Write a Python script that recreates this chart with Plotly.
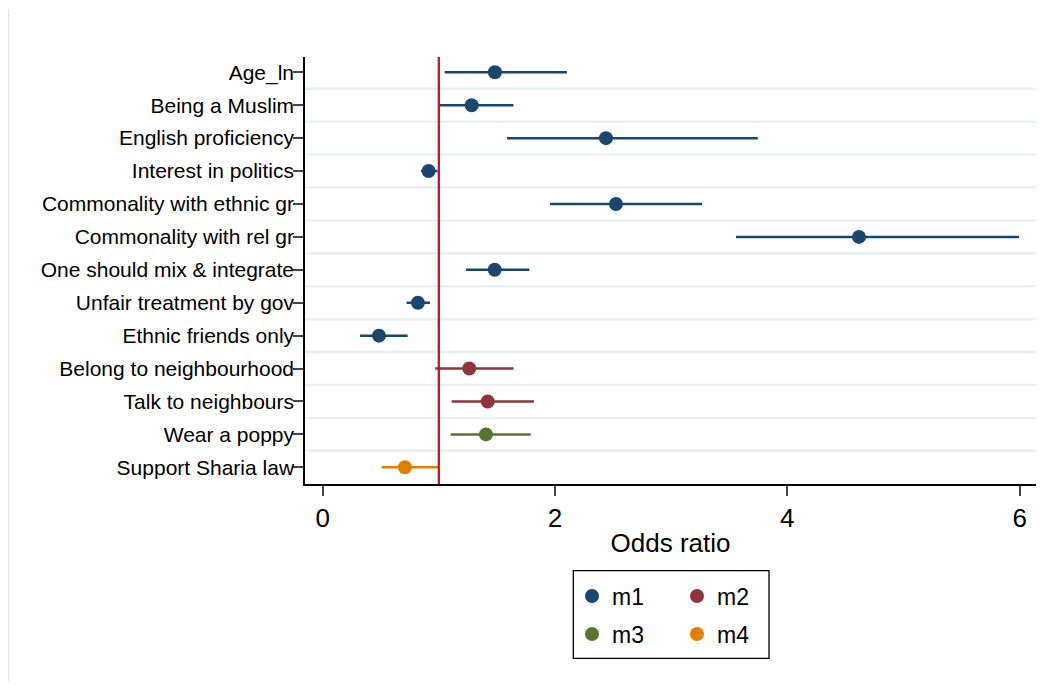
import plotly.graph_objects as go

# ---- data ----
labels = ["Age_ln", "Being a Muslim", "English proficiency", "Interest in politics",
          "Commonality with ethnic gr", "Commonality with rel gr", "One should mix & integrate",
          "Unfair treatment by gov", "Ethnic friends only", "Belong to neighbourhood",
          "Talk to neighbours", "Wear a poppy", "Support Sharia law"]
models = ["m1", "m1", "m1", "m1", "m1", "m1", "m1", "m1", "m1", "m2", "m2", "m3", "m4"]
estimates = [1.483, 1.283, 2.439, 0.912, 2.525, 4.617, 1.481, 0.820, 0.485, 1.262, 1.421, 1.406, 0.709]
ci_low = [1.050, 1.010, 1.587, 0.846, 1.957, 3.558, 1.234, 0.723, 0.321, 0.969, 1.111, 1.102, 0.508]
ci_high = [2.103, 1.643, 3.746, 0.989, 3.266, 5.995, 1.779, 0.924, 0.732, 1.644, 1.819, 1.791, 0.993]
model_names = ["m1", "m2", "m3", "m4"]
model_colors = {"m1": "#1a476f", "m2": "#90353b", "m3": "#55752f", "m4": "#e37e00"}
x_ticks = [0, 2, 4, 6]
ref_value = 1

FONT = "Liberation Sans, Arial, sans-serif"
OFF = 8  # page body margin
W, H = 1044, 674
# plot area in screen pixels
SX0, SX1, SY0, SY1 = 305, 1036, 57, 484
L, T = SX0 - OFF, SY0 - OFF
R, B = W - (SX1 - OFF), H - (SY1 - OFF)
PW, PH = SX1 - SX0, SY1 - SY0


def px_x(p):
    return (p - SX0) / PW


def px_y(p):
    return (SY1 - p) / PH


fig = go.Figure()
for m in model_names:
    idx = [i for i, mm in enumerate(models) if mm == m]
    xs = [estimates[i] for i in idx]
    ys = [i for i in idx]
    plus = [ci_high[i] - estimates[i] for i in idx]
    minus = [estimates[i] - ci_low[i] for i in idx]
    fig.add_trace(go.Scatter(
        x=xs, y=ys, mode="markers", name=m,
        marker=dict(size=14, color=model_colors[m]),
        error_x=dict(type="data", array=plus, arrayminus=minus, symmetric=False,
                     color=model_colors[m], thickness=2.5, width=0),
        legend="legend" if m in ("m1", "m2") else "legend2",
    ))

shapes = []
# horizontal gridlines between categories
for k in range(len(labels) - 1):
    shapes.append(dict(type="line", xref="paper", yref="y", x0=0, x1=1, y0=k + 0.5, y1=k + 0.5,
                       line=dict(color="#e9f0f2", width=2.5), layer="below"))
# reference line
shapes.append(dict(type="line", xref="x", yref="paper", x0=ref_value, x1=ref_value, y0=0, y1=1,
                   line=dict(color="#c8102e", width=2.3), layer="above"))
# legend frame
shapes.append(dict(type="rect", xref="paper", yref="paper",
                   x0=px_x(573.3), x1=px_x(769), y0=px_y(658.3), y1=px_y(570.7),
                   line=dict(color="#000000", width=1.3), fillcolor="rgba(0,0,0,0)"))
# outer faint border on the left
shapes.append(dict(type="line", xref="paper", yref="paper",
                   x0=px_x(8.7), x1=px_x(8.7), y0=px_y(681), y1=px_y(9),
                   line=dict(color="#e3e9ec", width=1.5)))

legend_common = dict(orientation="h", xanchor="left", yanchor="middle",
                     font=dict(family=FONT, size=23, color="#000000"),
                     bgcolor="rgba(0,0,0,0)", borderwidth=0, entrywidth=60,
                     itemwidth=30, tracegroupgap=0)

fig.update_layout(
    width=W, height=H,
    margin=dict(l=L, r=R, t=T, b=B, pad=0),
    paper_bgcolor="white", plot_bgcolor="white",
    font=dict(family=FONT, color="#000000"),
    showlegend=True,
    legend=dict(x=px_x(572), y=px_y(596), **legend_common),
    legend2=dict(x=px_x(572), y=px_y(634), **legend_common),
    shapes=shapes,
    xaxis=dict(
        range=[-0.152, 6.141], tickvals=x_ticks, ticktext=[str(v) for v in x_ticks],
        showgrid=False, zeroline=False,
        showline=True, linecolor="#000000", linewidth=1.5,
        ticks="outside", ticklen=10, tickwidth=1.5, tickcolor="#444444",
        tickfont=dict(family=FONT, size=26, color="#000000"),
        title=dict(text="Odds ratio", font=dict(family=FONT, size=26, color="#000000"), standoff=2),
    ),
    yaxis=dict(
        range=[12.507, -0.465], tickvals=list(range(len(labels))), ticktext=labels,
        showgrid=False, zeroline=False,
        showline=True, linecolor="#000000", linewidth=1.5,
        ticks="outside", ticklen=10, tickwidth=1.5, tickcolor="#444444",
        tickfont=dict(family=FONT, size=21, color="#000000"),
        ticklabelstandoff=-5,
    ),
)

fig.write_html("out.html")
